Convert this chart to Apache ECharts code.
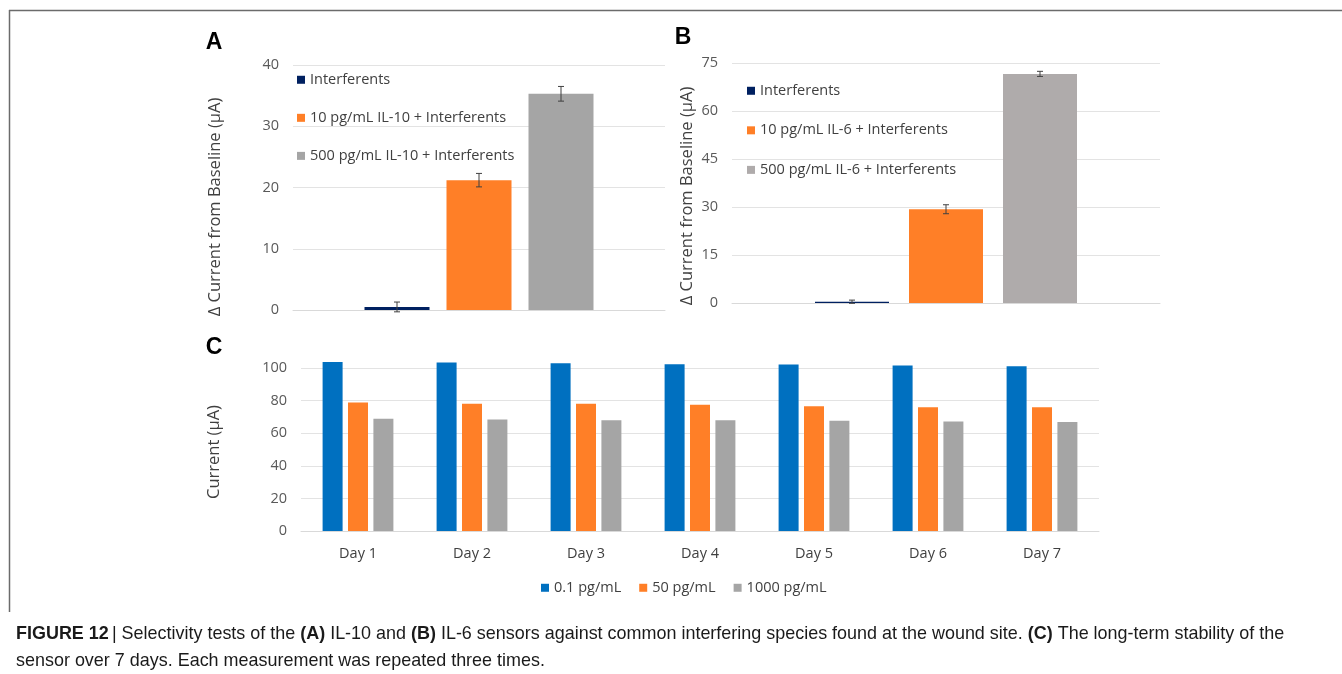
<!DOCTYPE html>
<html>
  <head>
    <title>Figure 12</title>
    <style>
      html, body {
        margin: 0;
        padding: 0;
        width: 100%;
        height: 100%;
        background: #fff;
      }
      #chart {
        width: 1342px;
        height: 674px;
      }
    </style>
  </head>
  <body>
    <div id="chart"></div>
    <script src="https://cdn.jsdelivr.net/npm/echarts@6/dist/echarts.min.js"></script>
    <script type="text/javascript">

      // panel A - IL-10 selectivity
      const namesA = ['Interferents', '10 pg/mL IL-10 + Interferents', '500 pg/mL IL-10 + Interferents'];
      const meansA = [0.5, 21.2, 35.3];
      const errA = [0.8, 1.1, 1.2];
      const ticksA = [0, 40, 10];

      // panel B - IL-6 selectivity
      const namesB = ['Interferents', '10 pg/mL IL-6 + Interferents', '500 pg/mL IL-6 + Interferents'];
      const meansB = [0.4, 29.3, 71.6];
      const errB = [0.5, 1.4, 0.8];
      const ticksB = [0, 75, 15];

      // panel C - stability over 7 days
      const days = ['Day 1', 'Day 2', 'Day 3', 'Day 4', 'Day 5', 'Day 6', 'Day 7'];
      const namesC = ['0.1 pg/mL', '50 pg/mL', '1000 pg/mL'];
      const low = [103.7, 103.3, 102.9, 102.3, 102.1, 101.5, 101.1];
      const mid = [78.8, 78.0, 78.0, 77.4, 76.6, 75.9, 75.9];
      const high = [68.8, 68.4, 68.0, 68.0, 67.6, 67.2, 66.8];
      const ticksC = [0, 100, 20];

      const FONT = '"Open Sans", sans-serif';
      const NAVY = '#002060', ORANGE = '#ff7f27', GRAY = '#a5a5a5', GRAY_B = '#afabab', BLUE = '#0070c0';
      const GRID_LINE = '#e3e3e3';

      const BAR_A = 65, GAP_A = 17;
      const BAR_B = 74, GAP_B = 20;

      const valueAxis = (idx, t) => ({
        type: 'value',
        gridIndex: idx,
        min: t[0],
        max: t[1],
        interval: t[2],
        axisLine: { show: false },
        axisTick: { show: false },
        axisLabel: { color: '#595959', fontSize: 14.5, fontFamily: FONT, margin: 14 },
        splitLine: { lineStyle: { color: GRID_LINE } }
      });

      const catAxis = (idx, data, showLabel) => ({
        type: 'category',
        gridIndex: idx,
        data: data,
        axisLine: { lineStyle: { color: '#d9d9d9' } },
        axisTick: { show: false },
        axisLabel: { show: showLabel, color: '#404040', fontSize: 14.5, fontFamily: FONT, margin: 11 }
      });

      const errorSeries = (idx, means, errs, step) => ({
        type: 'custom',
        xAxisIndex: idx,
        yAxisIndex: idx,
        silent: true,
        z: 5,
        data: means.map((m, i) => [0, m, errs[i], i]),
        encode: { x: 0, y: 1 },
        renderItem: (params, api) => {
          const m = api.value(1), e = api.value(2);
          const off = (api.value(3) - 1) * step;
          const top = api.coord([0, m + e]);
          const bot = api.coord([0, m - e]);
          const x = top[0] + off;
          const cap = 3;
          const st = { stroke: '#404040', lineWidth: 1 };
          return {
            type: 'group',
            children: [
              { type: 'line', shape: { x1: x, y1: top[1], x2: x, y2: bot[1] }, style: st },
              { type: 'line', shape: { x1: x - cap, y1: top[1], x2: x + cap, y2: top[1] }, style: st },
              { type: 'line', shape: { x1: x - cap, y1: bot[1], x2: x + cap, y2: bot[1] }, style: st }
            ]
          };
        }
      });

      const barSeries = (idx, name, data, color, width, gap) => ({
        type: 'bar',
        name: name,
        xAxisIndex: idx,
        yAxisIndex: idx,
        data: data,
        barWidth: width,
        barGap: gap,
        clip: false,
        itemStyle: { color: color },
        emphasis: { disabled: true }
      });

      const legendText = { color: '#404040', fontSize: 14.5, fontFamily: FONT };

      const axisTitle = (text, x, y) => ({
        type: 'text',
        x: x,
        y: y,
        rotation: Math.PI / 2,
        style: {
          text: text,
          fill: '#404040',
          font: '16.5px ' + FONT,
          align: 'center',
          verticalAlign: 'middle'
        }
      });

      const panelTag = (text, x, y) => ({
        type: 'text',
        x: x,
        y: y,
        style: {
          text: text,
          fill: '#000',
          font: 'bold 23px "Liberation Sans", Arial, sans-serif',
          align: 'center',
          verticalAlign: 'middle'
        }
      });

      const capFont = '"Liberation Sans", Arial, sans-serif';

      const option = {
        animation: false,
        backgroundColor: '#fff',
        grid: [
          { left: 293, top: 65, width: 372, height: 245 },
          { left: 732, top: 63, width: 428, height: 240 },
          { left: 301, top: 368, width: 798, height: 163 }
        ],
        xAxis: [
          catAxis(0, [''], false),
          catAxis(1, [''], false),
          catAxis(2, days, true)
        ],
        yAxis: [
          valueAxis(0, ticksA),
          valueAxis(1, ticksB),
          valueAxis(2, ticksC)
        ],
        legend: [
          {
            data: namesA,
            orient: 'vertical',
            left: 292,
            top: 63,
            itemWidth: 8,
            itemHeight: 8,
            itemGap: 14.5,
            icon: 'rect',
            textStyle: legendText,
            selectedMode: false
          },
          {
            data: namesB,
            orient: 'vertical',
            left: 742,
            top: 74,
            itemWidth: 8,
            itemHeight: 8,
            itemGap: 16,
            icon: 'rect',
            textStyle: legendText,
            selectedMode: false
          },
          {
            data: namesC,
            orient: 'horizontal',
            left: 536,
            top: 571,
            itemWidth: 8,
            itemHeight: 8,
            itemGap: 18,
            icon: 'rect',
            textStyle: legendText,
            selectedMode: false
          }
        ],
        series: [
          barSeries(0, namesA[0], [meansA[0]], NAVY, BAR_A, GAP_A / BAR_A * 100 + '%'),
          barSeries(0, namesA[1], [meansA[1]], ORANGE, BAR_A, GAP_A / BAR_A * 100 + '%'),
          barSeries(0, namesA[2], [meansA[2]], GRAY, BAR_A, GAP_A / BAR_A * 100 + '%'),
          errorSeries(0, meansA, errA, BAR_A + GAP_A),
          barSeries(1, namesB[0], [meansB[0]], NAVY, BAR_B, GAP_B / BAR_B * 100 + '%'),
          barSeries(1, namesB[1], [meansB[1]], ORANGE, BAR_B, GAP_B / BAR_B * 100 + '%'),
          barSeries(1, namesB[2], [meansB[2]], GRAY_B, BAR_B, GAP_B / BAR_B * 100 + '%'),
          errorSeries(1, meansB, errB, BAR_B + GAP_B),
          barSeries(2, namesC[0], low, BLUE, 20, '27%'),
          barSeries(2, namesC[1], mid, ORANGE, 20, '27%'),
          barSeries(2, namesC[2], high, GRAY, 20, '27%')
        ],
        graphic: [
          // figure frame
          { type: 'line', shape: { x1: 9, y1: 10.5, x2: 1342, y2: 10.5 }, style: { stroke: '#6b6b6b', lineWidth: 1.5 } },
          { type: 'line', shape: { x1: 9.5, y1: 10, x2: 9.5, y2: 612 }, style: { stroke: '#6b6b6b', lineWidth: 1.5 } },
          panelTag('A', 214, 43),
          panelTag('B', 683, 38),
          panelTag('C', 214, 348),
          axisTitle('\u0394 Current from Baseline (\u00b5A)', 215, 207),
          axisTitle('\u0394 Current from Baseline (\u00b5A)', 687, 196),
          axisTitle('Current (\u00b5A)', 214, 452),
          {
            type: 'text',
            x: 16,
            y: 634,
            scaleX: 0.945,
            style: {
              text: '{b|FIGURE 12} {n|| Selectivity tests of the }{b|(A)}{n| IL-10 and }{b|(B)}{n| IL-6 sensors against common interfering species found at the wound site. }{b|(C)}{n| The long-term stability of the}',
              verticalAlign: 'middle',
              rich: {
                b: { font: 'bold 19px ' + capFont, fill: '#1a1a1a' },
                n: { font: '19px ' + capFont, fill: '#1a1a1a' }
              }
            }
          },
          {
            type: 'text',
            x: 16,
            y: 661,
            scaleX: 0.945,
            style: {
              text: 'sensor over 7 days. Each measurement was repeated three times.',
              verticalAlign: 'middle',
              font: '19px ' + capFont,
              fill: '#1a1a1a'
            }
          }
        ]
      };

      const chart = echarts.init(document.getElementById('chart'));
      chart.setOption(option);
    </script>
  </body>
</html>
